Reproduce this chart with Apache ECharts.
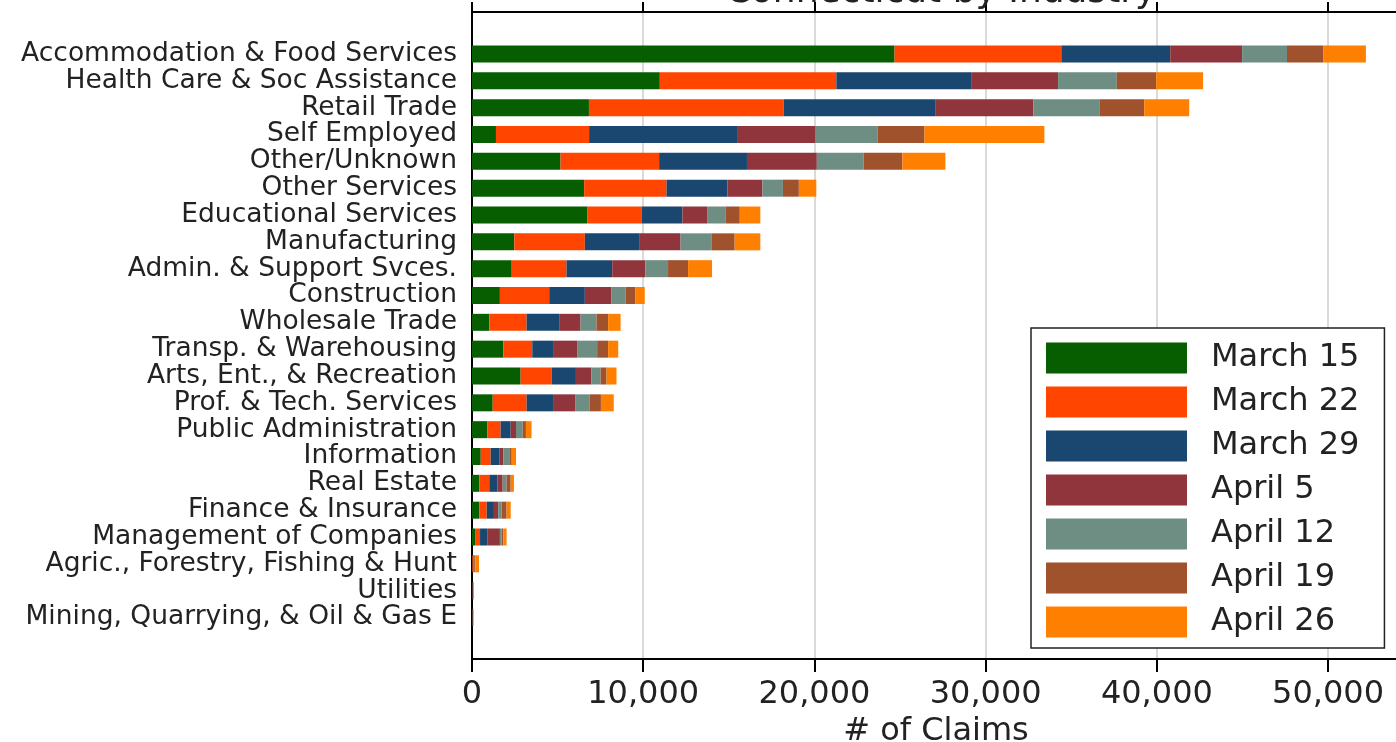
<!DOCTYPE html>
<html>
<head>
<meta charset="utf-8">
<script src="https://cdn.jsdelivr.net/npm/echarts@6/dist/echarts.min.js"></script>
<style>
html,body{margin:0;padding:0;background:#fff;}
#chart{width:1396px;height:742px;}
</style>
</head>
<body>
<div id="chart"></div>
<script>
const categories = [
  "Accommodation & Food Services","Health Care & Soc Assistance","Retail Trade","Self Employed",
  "Other/Unknown","Other Services","Educational Services","Manufacturing","Admin. & Support Svces.",
  "Construction","Wholesale Trade","Transp. & Warehousing","Arts, Ent., & Recreation",
  "Prof. & Tech. Services","Public Administration","Information","Real Estate","Finance & Insurance",
  "Management of Companies","Agric., Forestry, Fishing & Hunt","Utilities","Mining, Quarrying, & Oil & Gas E"
];
const seriesNames = ["March 15","March 22","March 29","April 5","April 12","April 19","April 26"];
const march15 = [24680,10970,6830,1400,5170,6550,6750,2470,2320,1630,1010,1830,2840,1210,890,510,430,430,180,20,10,10];
const march22 = [9740,10310,11370,5440,5760,4810,3150,4120,3200,2880,2180,1690,1810,1980,780,580,580,430,290,40,20,10];
const march29 = [6360,7910,8850,8640,5130,3560,2390,3170,2670,2080,1900,1260,1420,1590,590,500,470,420,420,20,20,10];
const april5  = [4200,5040,5740,4590,4080,2040,1440,2420,1940,1560,1250,1360,910,1270,310,240,310,250,740,30,20,20];
const april12 = [2620,3430,3850,3630,2730,1200,1070,1800,1320,820,930,1170,530,830,390,350,230,200,100,20,10,10];
const april19 = [2110,2300,2620,2730,2260,930,840,1360,1170,580,680,640,350,650,190,140,240,290,100,60,20,20];
const april26 = [2500,2740,2630,7000,2520,1020,1200,1500,1400,540,730,590,580,750,330,250,190,240,190,220,10,10];
const colors = ["#075e00","#ff4500","#1a476f","#90353b","#6e8e84","#a0522d","#ff8000"];
const xTicks = [0,10000,20000,30000,40000,50000];

const allSeries = [march15,march22,march29,april5,april12,april19,april26];
const XMAX = 54200;
const FONT = "DejaVu Sans";

const chart = echarts.init(document.getElementById('chart'), null, {renderer:'canvas'});
const barSeries = allSeries.map((arr,i)=>({
  name:seriesNames[i],type:'bar',stack:'total',xAxisIndex:1,yAxisIndex:1,
  barWidth:17,data:arr,itemStyle:{color:colors[i]},emphasis:{disabled:true}
}));
chart.setOption({
  animation:false,
  backgroundColor:'#fff',
  title:{
    text:'Connecticut by Industry', left:936, textAlign:'center', top:-30,
    textStyle:{fontFamily:FONT,fontSize:36,fontWeight:'normal',color:'#222'}
  },
  grid:[
    {left:472,right:-4,top:12,bottom:83,show:false,containLabel:false,outerBoundsMode:'none'},
    {left:472,right:-4,top:40.6,bottom:111.1,containLabel:false,outerBoundsMode:'none'}
  ],
  xAxis:[
    {gridIndex:0,type:'value',min:0,max:XMAX,interval:10000,position:'bottom',
     axisLine:{show:true,onZero:false,lineStyle:{color:'#000',width:2}},
     axisTick:{show:true,inside:false,length:13,lineStyle:{color:'#000',width:2}},
     axisLabel:{show:true,showMaxLabel:false,margin:20,fontFamily:FONT,fontSize:32,color:'#222',
       formatter:v=>xTicks.includes(v)?v.toLocaleString('en-US'):''},
     splitLine:{show:true,lineStyle:{color:'#dadada',width:2}},
     name:'# of Claims',nameLocation:'middle',nameGap:50,
     nameTextStyle:{fontFamily:FONT,fontSize:32,color:'#222'}},
    {gridIndex:1,type:'value',min:0,max:XMAX,show:false,splitLine:{show:false}},
    {gridIndex:0,type:'value',min:0,max:XMAX,interval:10000,position:'top',
     axisLine:{show:true,onZero:false,lineStyle:{color:'#000',width:2}},
     axisTick:{show:true,inside:false,length:10,lineStyle:{color:'#000',width:2}},
     axisLabel:{show:false},splitLine:{show:false}}
  ],
  yAxis:[
    {gridIndex:0,type:'value',min:0,max:1,position:'left',
     axisLine:{show:true,onZero:false,lineStyle:{color:'#000',width:2}},
     axisTick:{show:false},axisLabel:{show:false},splitLine:{show:false}},
    {gridIndex:1,type:'category',data:categories,inverse:true,
     axisLine:{show:false},axisTick:{show:false},
     axisLabel:{interval:0,margin:15,fontFamily:FONT,fontSize:26.5,color:'#222'}}
  ],
  legend:{
    orient:'vertical',left:1031,top:328,
    itemWidth:141,itemHeight:31,itemGap:12,
    padding:[14,25,10,15],
    backgroundColor:'#fff',borderColor:'#222',borderWidth:1.5,borderRadius:0,
    icon:'rect',
    textStyle:{fontFamily:FONT,fontSize:32,color:'#222',lineHeight:31,padding:[0,0,0,19]},
    data:seriesNames
  },
  series: barSeries
});
</script>
</body>
</html>
